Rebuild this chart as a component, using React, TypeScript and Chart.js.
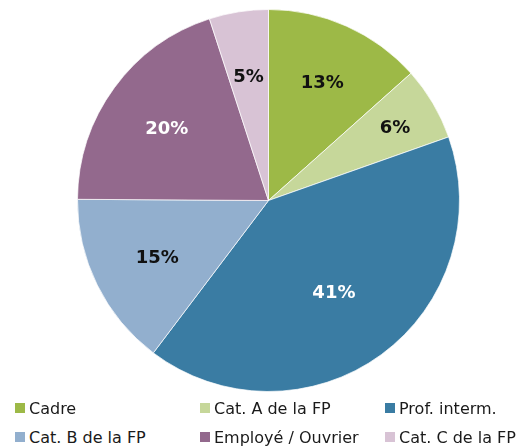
import React, { useEffect, useRef } from "react";
import { Chart, registerables } from "chart.js";

Chart.register(...registerables);

const categories = ["Cadre", "Cat. A de la FP", "Prof. interm.", "Cat. B de la FP", "Employé / Ouvrier", "Cat. C de la FP"];
const values = [13.4, 6.2, 40.7, 14.8, 19.9, 5.0];
const labelsText = ["13%", "6%", "41%", "15%", "20%", "5%"];
const colors = ["#9DB947", "#C6D79A", "#3A7CA3", "#92AFCE", "#93698D", "#D8C3D5"];
const labelColors = ["#111", "#111", "#fff", "#111", "#fff", "#111"];
const labelRadius = [0.69, 0.77, 0.58, 0.65, 0.66, 0.67];

const labelPlugin = {
  id: "sliceLabels",
  afterDatasetsDraw(chart: any) {
    const ctx = chart.ctx;
    const meta = chart.getDatasetMeta(0);
    ctx.save();
    ctx.font = "bold 18px 'DejaVu Sans'";
    ctx.textAlign = "center";
    ctx.textBaseline = "middle";
    meta.data.forEach((arc: any, i: number) => {
      const { x, y, startAngle, endAngle, outerRadius } = arc.getProps(["x", "y", "startAngle", "endAngle", "outerRadius"], true);
      const mid = (startAngle + endAngle) / 2;
      const r = outerRadius * labelRadius[i];
      ctx.fillStyle = labelColors[i];
      ctx.fillText(labelsText[i], x + Math.cos(mid) * r, y + Math.sin(mid) * r + 3);
    });
    ctx.restore();
  },
};

export default function App() {
  const ref = useRef<HTMLCanvasElement>(null);
  useEffect(() => {
    document.body.style.margin = "0";
    const chart = new Chart(ref.current!, {
      type: "pie",
      data: {
        labels: categories,
        datasets: [{ data: values, backgroundColor: colors, borderColor: "rgba(255,255,255,0.7)", borderWidth: 1 }],
      },
      options: {
        animation: false,
        responsive: false,
        layout: { padding: { top: 9, bottom: 8, left: 15, right: 0 } },
        plugins: { legend: { display: false }, tooltip: { enabled: false } },
      },
      plugins: [labelPlugin],
    });
    return () => chart.destroy();
  }, []);

  return (
    <div style={{ position: "relative", width: 522, height: 446, background: "#fff", fontFamily: "'DejaVu Sans', sans-serif" }}>
      <canvas ref={ref} width={522} height={400} style={{ position: "absolute", left: 0, top: 0 }} />
      {categories.map((c, i) => {
        const col = i % 3;
        const row = Math.floor(i / 3);
        return (
          <div key={c} style={{ position: "absolute", left: 15 + col * 185, top: 398 + row * 29, height: 20, display: "flex", alignItems: "center", fontSize: 16, color: "#1a1a1a", whiteSpace: "nowrap" }}>
            <span style={{ display: "inline-block", width: 10, height: 10, background: colors[i], marginRight: 4 }} />
            {c}
          </div>
        );
      })}
    </div>
  );
}
